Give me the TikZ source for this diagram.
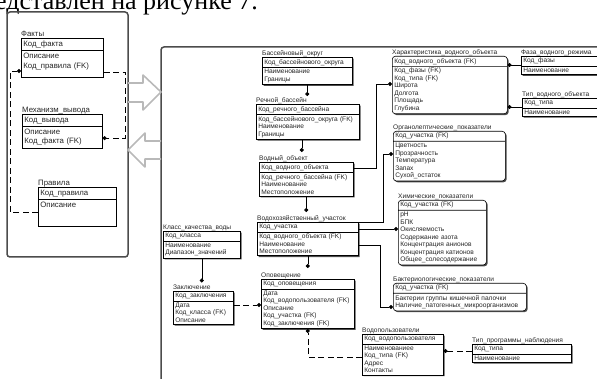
\documentclass[tikz,border=0pt]{standalone}
\usepackage{fontspec}
\setmainfont{Liberation Sans}
\newfontfamily\capfont{Liberation Serif}
\usetikzlibrary{arrows.meta,positioning,shapes.multipart,shadows,calc}

\begin{document}
\begin{tikzpicture}[x=1pt,y=-1pt,
		ent/.style={draw, fill=white, rectangle split, rectangle split parts=2, anchor=north west, align=left,
			inner xsep=2pt, inner ysep=1.6pt, line width=0.6pt, text=black!85, font=\fontsize{6.6}{7.5}\selectfont},
		lent/.style={ent, inner ysep=2.2pt, font=\fontsize{7.8}{9.6}\selectfont},
		shd/.style={drop shadow={shadow xshift=1.3pt, shadow yshift=-1.3pt, fill=black!70, opacity=1}},
		dep/.style={ent, shd, rounded corners=3pt},
		etitle/.style={anchor=base west, inner sep=0pt, text=black!85, font=\fontsize{6.6}{7.5}\selectfont},
		ltitle/.style={etitle, font=\fontsize{7.8}{9.6}\selectfont},
		rel/.style={-{Circle[length=4pt]}, line width=0.6pt},
		nrel/.style={rel, dash pattern=on 6pt off 3.5pt},
		frame/.style={line width=1.5pt, draw=black!70, rounded corners=3pt},
		bigarrow/.style={draw=gray!55, line width=1.6pt, line join=round}]

	\useasboundingbox (0,0) rectangle (597,379);
	\clip (0,0) rectangle (597,379);

	\node[anchor=base east, inner sep=0pt, font=\capfont\fontsize{26}{26}\selectfont] (cap) at (258,9.5) {представлен на рисунке 7.};

	% frames and block arrows
	\draw[frame] (7,12) rectangle (128,257);
	\draw[frame] (620,47) -- (161,47) -- (161,400);
	\draw[bigarrow] (128,83) -- (143,83) -- (143,75) -- (161,92) -- (143,110) -- (143,102) -- (128,102);
	\draw[bigarrow] (161,141) -- (145,141) -- (145,133) -- (128,150) -- (145,167) -- (145,159) -- (161,159);

	% knowledge base
	\node[lent, text width=78pt] (fakty) at (21,38) {Код\_факта\nodepart{two}Описание\\Код\_правила (FK)\rule[-7pt]{0pt}{7pt}};
	\node[ltitle] (fakty-t) at ([yshift=1.5pt]fakty.north west) {Факты};
	\node[lent, text width=76pt] (mekh) at (22,114) {Код\_вывода\nodepart{two}Описание\\Код\_факта (FK)};
	\node[ltitle] (mekh-t) at ([yshift=1.5pt]mekh.north west) {Механизм\_вывода};
	\node[lent, text width=74pt] (pravila) at (38,187) {Код\_правила\nodepart{two}Описание\rule[-17pt]{0pt}{17pt}};
	\node[ltitle] (pravila-t) at ([yshift=1.5pt]pravila.north west) {Правила};

	\draw[nrel] ($(fakty.south east)+(0,-6)$) -- ++(22,0) |- ($(mekh.south east)+(0,-10)$);
	\draw[nrel] ($(pravila.south west)+(0,-15)$) -- ++(-28,0) |- ($(fakty.north west)+(0,33)$);

	% database
	\node[ent, shd, text width=86pt] (bokrug) at (262,57) {Код\_бассейнового\_округа\nodepart{two}Наименование\\Границы};
	\node[etitle] (bokrug-t) at ([yshift=1.5pt]bokrug.north west) {Бассейновый\_округ};
	\node[ent, shd, text width=99pt] (rbass) at (256,104) {Код\_речного\_бассейна\nodepart{two}Код\_бассейнового\_округа~(FK)\\Наименование\\Границы};
	\node[etitle] (rbass-t) at ([yshift=1.5pt]rbass.north west) {Речной\_бассейн};
	\node[ent, shd, text width=90pt] (vobj) at (259,162) {Код\_водного\_объекта\nodepart{two}Код\_речного\_бассейна~(FK)\\Наименование\\Местоположение};
	\node[etitle] (vobj-t) at ([yshift=1.5pt]vobj.north west) {Водный\_объект};
	\node[ent, shd, text width=97pt] (vuch) at (257,222) {Код\_участка\nodepart{two}Код\_водного\_объекта~(FK)\\Наименование\\Местоположение};
	\node[etitle] (vuch-t) at ([yshift=1.5pt]vuch.north west) {Водохозяйственный\_участок};
	\node[ent, shd, text width=89pt] (opov) at (261,279) {Код\_оповещения\nodepart{two}Дата\\Код\_водопользователя~(FK)\\Описание\\Код\_участка~(FK)\\Код\_заключения~(FK)};
	\node[etitle] (opov-t) at ([yshift=1.5pt]opov.north west) {Оповещение};
	\node[ent, shd, text width=73pt] (klass) at (163,231) {Код\_класса\nodepart{two}Наименование\\Диапазон\_значений};
	\node[etitle] (klass-t) at ([yshift=1.5pt]klass.north west) {Класс\_качества\_воды};
	\node[ent, shd, text width=56pt] (zakl) at (173,291) {Код\_заключения\nodepart{two}Дата\\Код\_класса~(FK)\\Описание};
	\node[etitle] (zakl-t) at ([yshift=1.5pt]zakl.north west) {Заключение};

	\node[dep, text width=111pt] (kharakt) at (392,56) {Код\_водного\_объекта~(FK)\nodepart{two}Код\_фазы~(FK)\\Код\_типа~(FK)\\Широта\\Долгота\\Площадь\\Глубина};
	\node[etitle] (kharakt-t) at ([yshift=1.5pt]kharakt.north west) {Характеристика\_водного\_объекта};
	\node[ent, shd, text width=78pt] (faza) at (521,56) {Код\_фазы\nodepart{two}Наименование};
	\node[etitle] (faza-t) at ([yshift=1.5pt]faza.north west) {Фаза\_водного\_режима};
	\node[ent, shd, text width=76pt] (tipvo) at (522,98) {Код\_типа\nodepart{two}Наименование};
	\node[etitle] (tipvo-t) at ([yshift=1.5pt]tipvo.north west) {Тип\_водного\_объекта};
	\node[dep, text width=108pt] (organ) at (393,131) {Код\_участка~(FK)\nodepart{two}Цветность\\Прозрачность\\Температура\\Запах\\Сухой\_остаток};
	\node[etitle] (organ-t) at ([yshift=1.5pt]organ.north west) {Органолептические\_показатели};
	\node[dep, text width=84pt] (khim) at (398,200) {Код\_участка~(FK)\nodepart{two}pH\\БПК\\Окисляемость\\Содержание азота\\Концентрация анионов\\Концентрация катионов\\Общее\_солесодержание};
	\node[etitle] (khim-t) at ([yshift=1.5pt]khim.north west) {Химические\_показатели};
	\node[dep, text width=129pt] (bakt) at (393,283) {Код\_участка~(FK)\nodepart{two}Бактерии группы кишечной палочки\\Наличие\_патогенных\_микроорганизмов};
	\node[etitle] (bakt-t) at ([yshift=1.5pt]bakt.north west) {Бактериологические\_показатели};
	\node[ent, shd, text width=77pt] (vodop) at (362,334) {Код\_водопользователя\nodepart{two}Наименованиее\\Код\_типа~(FK)\\Адрес\\Контакты};
	\node[etitle] (vodop-t) at ([yshift=1.5pt]vodop.north west) {Водопользователи};
	\node[ent, shd, text width=95pt] (tipprog) at (472,344) {Код\_типа\nodepart{two}Наименование};
	\node[etitle] (tipprog-t) at ([yshift=1.5pt]tipprog.north west) {Тип\_программы\_наблюдения};

	% relationships
	\draw[rel] (bokrug.south) -- ($(bokrug.south |- rbass.north)+(0,-8)$);
	\draw[rel] ([xshift=-6pt]rbass.south) -- ($(rbass.south |- vobj.north)+(-6,-10)$);
	\draw[rel] (vobj.south) -- ($(vobj.south |- vuch.north)+(0,-10)$);
	\draw[rel] (vuch.south) -- ($(vuch.south |- opov.north)+(0,-11)$);
	\draw[rel] (klass.south) -- ($(klass.south |- zakl.north)+(0,-8.5)$);
	\draw[nrel] ($(zakl.north east)+(0,14)$) -- ($(opov.north west)+(0,26)$);
	\draw[nrel] ($(vodop.north west)+(0,23)$) -| (opov.south);
	\draw[nrel] ($(tipprog.north west)+(0,7)$) -- ($(vodop.north east)+(0,17)$);
	\draw[rel] ($(faza.north west)+(0,9)$) -- ($(kharakt.north east)+(0,9)$);
	\draw[rel] ($(tipvo.north west)+(0,9)$) -- ($(kharakt.north east)+(0,51)$);
	\draw[rel] ($(vobj.north east)+(0,6)$) -- ++(23,0) |- ($(kharakt.north west)+(0,28)$);
	\draw[rel] (vuch.north east) -- ++(25,0) |- ($(organ.north west)+(0,23)$);
	\draw[rel] ($(vuch.north east)+(0,7)$) -- ($(khim.north west)+(0,29)$);
	\draw[rel] ($(vuch.north east)+(0,23)$) -- ++(22,0) |- ($(bakt.north west)+(0,24)$);
\end{tikzpicture}
\end{document}
